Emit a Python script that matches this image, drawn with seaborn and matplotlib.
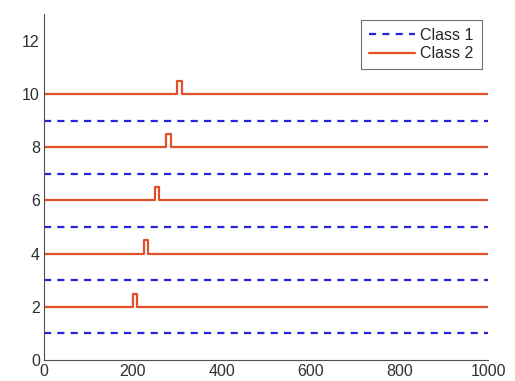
import matplotlib
matplotlib.use("Agg")
import matplotlib.pyplot as plt
import seaborn as sns
import pandas as pd
from matplotlib.lines import Line2D

# ---- data ----
class1_levels = [1, 3, 5, 7, 9]
class2_levels = [2, 4, 6, 8, 10]
pulse_starts = [200, 225, 250, 275, 300]
pulse_width = 10
pulse_height = 0.5
x_start, x_end = 0, 1000
xticks = [0, 200, 400, 600, 800, 1000]
yticks = [0, 2, 4, 6, 8, 10, 12]

rows = []
sid = 0
for lvl in class1_levels:
    for xv in [x_start, x_end]:
        rows.append(dict(x=xv, y=lvl, cls="Class 1", id=sid))
    sid += 1
for lvl, s in zip(class2_levels, pulse_starts):
    xs = [x_start, s, s, s + pulse_width, s + pulse_width, x_end]
    ys = [lvl, lvl, lvl + pulse_height, lvl + pulse_height, lvl, lvl]
    for xv, yv in zip(xs, ys):
        rows.append(dict(x=xv, y=yv, cls="Class 2", id=sid))
    sid += 1
df = pd.DataFrame(rows)

sns.set_style("white")
plt.rcParams["font.family"] = ["Liberation Sans", "DejaVu Sans"]

fig = plt.figure(figsize=(5.15, 3.81), dpi=100)
ax = fig.add_axes([0.0854, 0.055, 0.8622, 0.908])

blue = "#2424D8"
red = "#E0502A"
sns.lineplot(data=df, x="x", y="y", hue="cls", style="cls", units="id",
             estimator=None, sort=False, ax=ax,
             palette={"Class 1": blue, "Class 2": red},
             dashes={"Class 1": (3.2, 2.8), "Class 2": ""},
             linewidth=1.6, legend=False)

handles = [Line2D([], [], color=blue, lw=1.6, dashes=(3.2, 2.8)),
           Line2D([], [], color=red, lw=1.6)]
leg = ax.legend(handles, ["Class 1", "Class 2"], loc="upper right",
                bbox_to_anchor=(0.986, 0.983), borderaxespad=0,
                fontsize=11.5, frameon=True,
                fancybox=False, edgecolor="#707070", handlelength=2.9,
                handletextpad=0.35, borderpad=0.5, labelspacing=0.2,
                framealpha=1)
leg.get_frame().set_linewidth(0.8)

ax.set_xlim(0, 1000)
ax.set_ylim(0, 13)
ax.set_xticks(xticks)
ax.set_yticks(yticks)
ax.set_xlabel("")
ax.set_ylabel("")
for sp in ["top", "right"]:
    ax.spines[sp].set_visible(False)
for sp in ["left", "bottom"]:
    ax.spines[sp].set_color("#505050")
    ax.spines[sp].set_linewidth(0.8)
ax.tick_params(direction="in", length=4, width=0.8, colors="#505050",
               labelsize=11.5, labelcolor="#303030", pad=3)

fig.savefig("out.png", dpi=100)
